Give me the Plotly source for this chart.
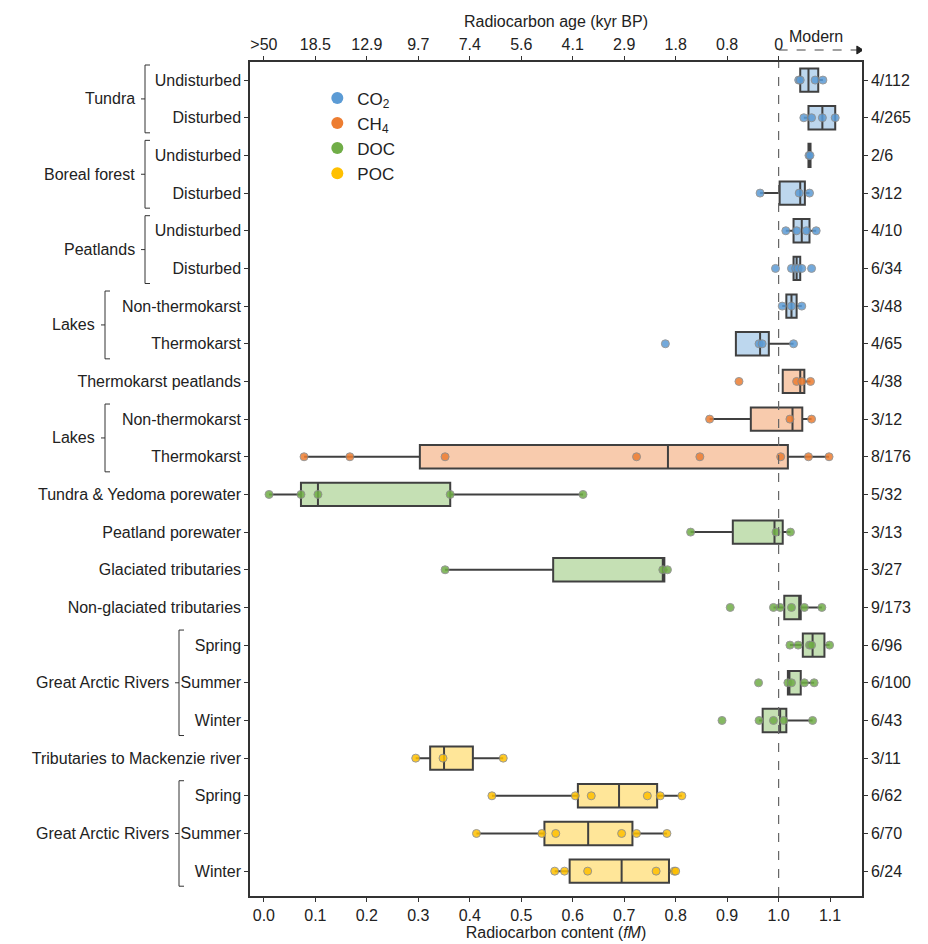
import plotly.graph_objects as go

labels = ["Undisturbed", "Disturbed", "Undisturbed", "Disturbed", "Undisturbed", "Disturbed",
          "Non-thermokarst", "Thermokarst", "Thermokarst peatlands", "Non-thermokarst", "Thermokarst",
          "Tundra & Yedoma porewater", "Peatland porewater", "Glaciated tributaries",
          "Non-glaciated tributaries", "Spring", "Summer", "Winter",
          "Tributaries to Mackenzie river", "Spring", "Summer", "Winter"]
counts = ["4/112", "4/265", "2/6", "3/12", "4/10", "6/34", "3/48", "4/65", "4/38", "3/12", "8/176",
          "5/32", "3/13", "3/27", "9/173", "6/96", "6/100", "6/43", "3/11", "6/62", "6/70", "6/24"]
kind = ["CO2"] * 8 + ["CH4"] * 3 + ["DOC"] * 7 + ["POC"] * 4
q1 = [1.042, 1.058, 1.058, 1.002, 1.029, 1.029, 1.015, 0.917, 1.008, 0.946, 0.303,
      0.072, 0.911, 0.562, 1.011, 1.047, 1.018, 0.969, 0.323, 0.610, 0.545, 0.594]
med = [1.058, 1.085, 1.060, 1.042, 1.045, 1.035, 1.025, 0.964, 1.042, 1.027, 0.785,
       0.105, 0.992, 0.775, 1.040, 1.066, 1.021, 1.003, 0.350, 0.690, 0.630, 0.695]
q3 = [1.077, 1.110, 1.062, 1.051, 1.060, 1.042, 1.035, 0.981, 1.050, 1.046, 1.018,
      0.362, 1.008, 0.778, 1.043, 1.089, 1.043, 1.015, 0.406, 0.764, 0.716, 0.787]
lo = [1.039, 1.049, 1.058, 0.964, 1.014, 1.029, 1.007, 0.917, 1.008, 0.866, 0.078,
      0.010, 0.829, 0.352, 0.990, 1.022, 1.018, 0.962, 0.295, 0.443, 0.413, 0.565]
hi = [1.086, 1.110, 1.062, 1.060, 1.073, 1.042, 1.045, 1.029, 1.062, 1.064, 1.098,
      0.620, 1.023, 0.784, 1.084, 1.099, 1.069, 1.066, 0.465, 0.812, 0.783, 0.800]
points = [
    [1.039, 1.042, 1.071, 1.086], [1.049, 1.064, 1.085, 1.110], [1.059, 1.061],
    [0.964, 1.040, 1.060], [1.014, 1.035, 1.054, 1.073], [0.994, 1.025, 1.033, 1.038, 1.045, 1.064],
    [1.007, 1.025, 1.045], [0.780, 0.962, 0.968, 1.029], [0.923, 1.035, 1.045, 1.062],
    [0.866, 1.022, 1.064], [0.078, 0.167, 0.352, 0.724, 0.847, 1.004, 1.058, 1.098],
    [0.010, 0.072, 0.105, 0.362, 0.620], [0.829, 0.995, 1.023], [0.352, 0.775, 0.784],
    [0.906, 0.990, 1.003, 1.025, 1.050, 1.084], [1.022, 1.038, 1.060, 1.064, 1.099],
    [0.961, 1.018, 1.025, 1.050, 1.069], [0.890, 0.962, 0.990, 1.010, 1.066],
    [0.295, 0.348, 0.465], [0.443, 0.605, 0.636, 0.745, 0.770, 0.812],
    [0.413, 0.540, 0.567, 0.695, 0.724, 0.783], [0.565, 0.584, 0.629, 0.762, 0.797, 0.800]]
groups = [("Tundra", 0, 1, 137), ("Boreal forest", 2, 3, 137), ("Peatlands", 4, 5, 137),
          ("Lakes", 6, 7, 97), ("Lakes", 9, 10, 97), ("Great Arctic Rivers", 15, 17, 171),
          ("Great Arctic Rivers", 19, 21, 171)]
age_ticks = [">50", "18.5", "12.9", "9.7", "7.4", "5.6", "4.1", "2.9", "1.8", "0.8", "0"]
fm_ticks = [0.0, 0.1, 0.2, 0.3, 0.4, 0.5, 0.6, 0.7, 0.8, 0.9, 1.0, 1.1]

col = {"CO2": "#5B9BD5", "CH4": "#ED7D31", "DOC": "#70AD47", "POC": "#FFC000"}
fill = {"CO2": "#BDD7EE", "CH4": "#F8CBAD", "DOC": "#C5E0B4", "POC": "#FFE699"}
leg = {"CO2": "CO<sub>2</sub>", "CH4": "CH<sub>4</sub>", "DOC": "DOC", "POC": "POC"}
FONT = "Liberation Sans"

fig = go.Figure()
n = len(labels)
for i in range(n):
    k = kind[i]
    fig.add_trace(go.Box(y=[i], q1=[q1[i]], median=[med[i]], q3=[q3[i]], lowerfence=[lo[i]],
                         upperfence=[hi[i]], orientation="h", fillcolor=fill[k],
                         line=dict(color="#404040", width=2), whiskerwidth=0, width=0.62,
                         boxpoints=False, showlegend=False, hoverinfo="skip"))
for i in range(n):
    k = kind[i]
    fig.add_trace(go.Scatter(x=points[i], y=[i] * len(points[i]), mode="markers",
                             marker=dict(color=col[k], size=8, opacity=0.85,
                                         line=dict(color="#888888", width=1)),
                             showlegend=False, hoverinfo="skip"))
for k in ["CO2", "CH4", "DOC", "POC"]:
    fig.add_trace(go.Scatter(x=[None], y=[None], mode="markers", name=leg[k],
                             marker=dict(color=col[k], size=12)))
fig.add_trace(go.Scatter(x=[0.5], y=[0], xaxis="x2", yaxis="y2", mode="markers",
                         marker=dict(opacity=0), showlegend=False, hoverinfo="skip"))

ax = dict(showline=True, linecolor="#333333", linewidth=1.5, ticks="outside", ticklen=4,
          tickcolor="#333333", showgrid=False, zeroline=False, automargin=False,
          tickfont=dict(size=16))
yr = [21.66, -0.48]
xr = [-0.027, 1.162]
fig.update_layout(
    width=928, height=944, plot_bgcolor="white", paper_bgcolor="white",
    margin=dict(l=242, r=74, t=54, b=56),
    font=dict(family=FONT, size=15, color="#222222"),
    xaxis=dict(**ax, range=xr, tickvals=fm_ticks, tickformat=".1f",
               title=dict(text="Radiocarbon content (<i>fM</i>)", standoff=2, font=dict(size=16))),
    xaxis2=dict(**ax, range=xr, overlaying="x", side="top", tickvals=fm_ticks[:11],
                ticktext=age_ticks,
                title=dict(text="Radiocarbon age (kyr BP)", standoff=4, font=dict(size=16))),
    yaxis=dict(**ax, range=yr, tickvals=list(range(n)), ticktext=labels),
    yaxis2=dict(**ax, range=yr, overlaying="y", side="right", tickvals=list(range(n)),
                ticktext=counts),
    legend=dict(x=0.11, y=0.978, xanchor="left", yanchor="top", bgcolor="rgba(0,0,0,0)",
                font=dict(size=17), tracegroupgap=0, itemwidth=30),
    showlegend=True,
)
fig.add_shape(type="line", x0=1.0, x1=1.0, y0=0, y1=1, yref="paper",
              line=dict(color="#666666", width=1.2, dash="dash"))
# Modern arrow
fig.add_shape(type="line", x0=1.0, x1=1.155, y0=1.0144, y1=1.0144, yref="paper",
              line=dict(color="#444444", width=1.2, dash="dash"))
fig.add_shape(type="path", yref="paper",
              path="M 1.152 1.0192 L 1.164 1.0144 L 1.152 1.0096 Z",
              fillcolor="#222222", line=dict(color="#222222", width=1))
fig.add_annotation(x=1.072, y=1.018, yref="paper", text="Modern", showarrow=False,
                   yanchor="bottom", font=dict(size=16))


def px(v):
    return (v - 250) / 612.0


for name, a, b, xr_px in groups:
    bx = px(xr_px + 8)
    tick = 5 / 612.0
    y0, y1 = a - 0.4, b + 0.4
    mid = (a + b) / 2
    fig.add_shape(type="path", xref="paper", yref="y",
                  path=f"M {bx + tick} {y0} L {bx} {y0} L {bx} {y1} L {bx + tick} {y1}",
                  line=dict(color="#333333", width=1))
    fig.add_shape(type="line", xref="paper", yref="y", x0=bx - 4 / 612.0, x1=bx, y0=mid, y1=mid,
                  line=dict(color="#333333", width=1))
    fig.add_annotation(x=px(xr_px), y=mid, xref="paper", yref="y", text=name, showarrow=False,
                       xanchor="right", font=dict(size=16))

fig.write_html("out.html")
